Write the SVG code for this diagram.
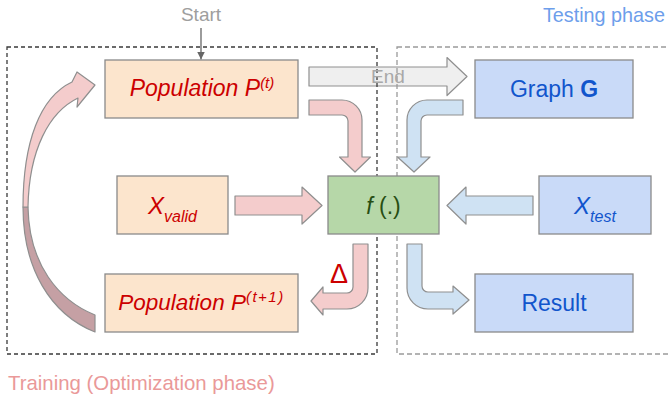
<svg xmlns="http://www.w3.org/2000/svg" width="669" height="400" viewBox="0 0 669 400">
<defs>
<style>
.box{stroke:#8a8a8a;stroke-width:1.3}
.orange{fill:#fce5cd}
.blue{fill:#c9daf8}
.green{fill:#b6d7a8}
.arr{stroke:#8f8f8f;stroke-width:1.2;stroke-linejoin:round}
.pink{fill:#f4cccc}
.lblue{fill:#cfe2f3}
.grey{fill:#efefef}
.t{font-family:"Liberation Sans",Arial,sans-serif}
.red{fill:#cc0000}
.dblue{fill:#1155cc}
</style>
<marker id="ah" viewBox="0 0 10 10" refX="10" refY="5" markerWidth="8" markerHeight="8" markerUnits="userSpaceOnUse" orient="auto">
<path d="M0,0 L10,5 L0,10 Z" fill="#666"/>
</marker>
</defs>
<rect width="669" height="400" fill="#ffffff"/>

<g id="connectors">
<!-- Start arrow -->
<line x1="201" y1="28" x2="201" y2="59.5" stroke="#666" stroke-width="1.3" marker-end="url(#ah)"/>
<!-- End arrow -->
<path class="arr grey" d="M309,67 H447 V57.5 L467,76.5 L447,95.5 V86 H309 Z"/>
<!-- P(t) -> f -->
<path class="arr pink" d="M309,100 H342 A20,20 0 0 1 362,120 V157 H370.5 L355,172 L339.5,157 H348 V121 A6,6 0 0 0 342,115 H309 Z"/>
<!-- Graph G -> f -->
<path class="arr lblue" d="M463,100 H427 A20,20 0 0 0 407,120 V157 H397.5 L414,172 L430,157 H421 V121 A6,6 0 0 1 427,115 H463 Z"/>
<!-- X_valid -> f -->
<path class="arr pink" d="M235,196 H302 V187 L322,205.5 L302,224 V215 H235 Z"/>
<!-- X_test -> f -->
<path class="arr lblue" d="M533,196 H466 V187 L447,205.5 L466,224 V215 H533 Z"/>
<!-- f -> P(t+1) -->
<path class="arr pink" d="M353,244 H368 V288 A21,21 0 0 1 347,309 H323 V315 L311,301 L323,287 V293 H347 A6,6 0 0 0 353,287 Z"/>
<!-- f -> Result -->
<path class="arr lblue" d="M407,244 H422 V286 A6,6 0 0 0 428,292 H453 V286 L469,300 L453,314 V309 H428 A21,21 0 0 1 407,288 Z"/>
<!-- curved loop arrow -->
<path class="arr" fill="#c5a0a4" d="M23,207 C23,268 50,314 95,332 L95,315 C58,300 29,264 28,207 Z"/>
<path class="arr pink" d="M23,207 C23,142 40,97 72,82 L77,72 L95,85 L77,107 L78,98 C49,112 29,150 28,207 Z"/>
</g>

<g id="phases">
<rect x="7" y="47" width="370" height="307" fill="none" stroke="#3a3a3a" stroke-width="1.3" stroke-dasharray="4 3"/>
<rect x="397" y="47" width="290" height="307" fill="none" stroke="#9a9a9a" stroke-width="1.3" stroke-dasharray="5 3"/>
</g>

<g id="labels">
<text class="t" x="201" y="21" font-size="19" fill="#9e9e9e" text-anchor="middle">Start</text>
<text class="t" x="388" y="83" font-size="19" fill="#a8a8a8" text-anchor="middle">End</text>
<text class="t" x="665" y="22" font-size="19.8" fill="#6d9eeb" text-anchor="end">Testing phase</text>
<text class="t" x="8" y="390" font-size="20.4" fill="#ea9999">Training (Optimization phase)</text>
<text class="t red" x="330" y="283" font-size="27">Δ</text>
</g>

<g id="pop_t">
<rect class="box orange" x="105" y="60" width="193" height="58"/>
<text class="t red" x="202" y="96" font-size="23" font-style="italic" text-anchor="middle">Population P<tspan font-size="15" dy="-8">(t)</tspan></text>
</g>

<g id="x_valid">
<rect class="box orange" x="117" y="176" width="111" height="58"/>
<text class="t red" x="172.5" y="214" font-size="24" font-style="italic" text-anchor="middle">X<tspan font-size="16" dy="8">valid</tspan></text>
</g>

<g id="pop_t1">
<rect class="box orange" x="105" y="274" width="193" height="58"/>
<text class="t red" x="201.5" y="310" font-size="22.5" font-style="italic" text-anchor="middle">Population P<tspan font-size="15" dy="-8" letter-spacing="1.5">(t+1)</tspan></text>
</g>

<g id="f">
<rect class="box green" x="328" y="176" width="111" height="58"/>
<text class="t" x="383.5" y="214" font-size="23" fill="#274e13" text-anchor="middle"><tspan font-style="italic">f</tspan> (.)</text>
</g>

<g id="graph_g">
<rect class="box blue" x="475" y="60" width="158" height="58"/>
<text class="t dblue" x="554" y="97" font-size="23" text-anchor="middle">Graph <tspan font-weight="bold">G</tspan></text>
</g>

<g id="x_test">
<rect class="box blue" x="539" y="176" width="112" height="58"/>
<text class="t dblue" x="595" y="214" font-size="24" font-style="italic" text-anchor="middle">X<tspan font-size="16" dy="8">test</tspan></text>
</g>

<g id="result">
<rect class="box blue" x="475" y="274" width="158" height="58"/>
<text class="t dblue" x="554" y="311" font-size="23" text-anchor="middle">Result</text>
</g>
</svg>
